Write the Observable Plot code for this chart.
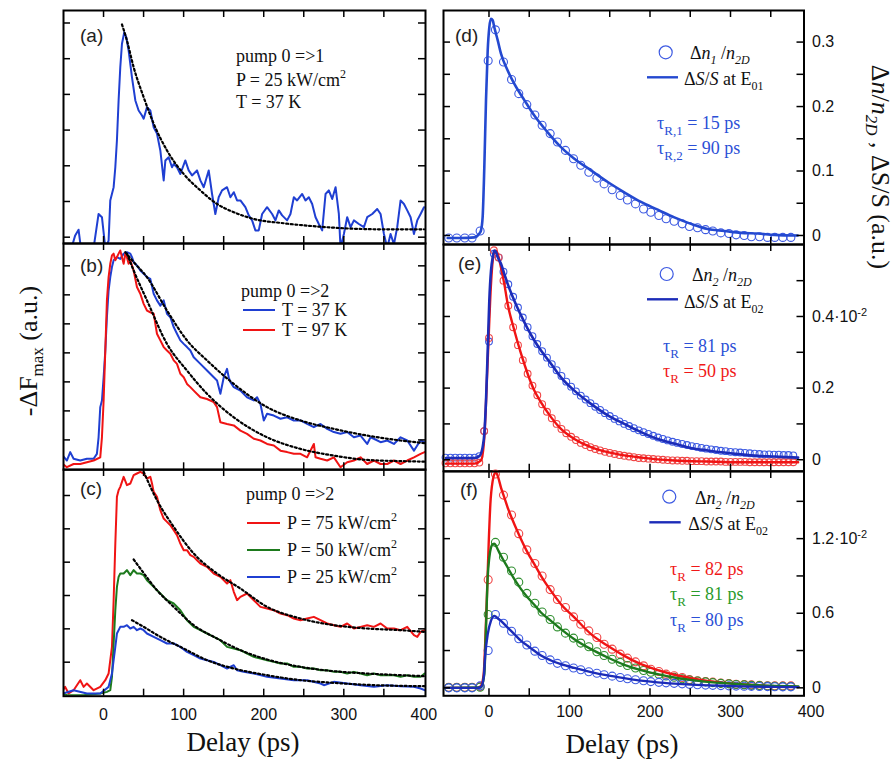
<!DOCTYPE html>
<html><head><meta charset="utf-8">
<script src="https://cdn.jsdelivr.net/npm/d3@7"></script>
<script src="https://cdn.jsdelivr.net/npm/@observablehq/plot@0.6"></script>
<style>
body{margin:0;background:#fff}
#fig{position:relative;width:894px;height:764px;overflow:hidden;background:#fff}
#fig svg{position:absolute}
</style>
</head><body><div id="fig"></div>
<script>
// ---------------- DATA (delay in ps, signal in axis units) ----------------
// (a) pump 0=>1, P = 25 kW/cm2, T = 37 K
const aBlue = [[-40,-0.3],[-35.4,0.05],[-31.2,0.21],[-28.3,-0.3],[-12.4,-0.3],[-6.2,0.65],[-2.0,0.56],[2.2,-0.3],[6.3,-0.1],[8.4,1.03],[12.6,1.40],[14.7,1.96],[16.7,2.71],[18.8,3.83],[20.9,4.76],[23.0,5.42],[25.9,5.74],[28.4,5.60],[31.3,5.23],[35.5,4.48],[39.7,3.83],[43.8,3.55],[48.0,3.41],[50.1,3.32],[54.2,3.64],[58.4,3.55],[62.6,3.08],[66.7,2.90],[70.9,2.43],[75.1,1.59],[77.2,2.15],[81.3,2.24],[85.5,1.96],[87.6,2.05],[91.7,1.96],[95.9,1.77],[102.1,2.15],[106.3,1.87],[110.5,1.73],[116.7,1.87],[120.9,1.59],[125.1,1.40],[131.3,1.87],[135.5,1.21],[139.6,0.65],[143.8,1.12],[148.0,1.31],[154.2,1.40],[158.4,1.12],[162.6,1.26],[166.7,1.03],[170.9,1.03],[177.1,0.84],[181.3,0.61],[185.5,0.47],[189.6,0.19],[193.8,0.19],[198.0,0.65],[204.2,0.84],[210.5,0.65],[214.6,0.47],[218.8,0.75],[223.0,0.61],[229.2,0.47],[233.4,0.65],[237.6,1.12],[241.7,1.03],[248.0,1.21],[252.2,1.03],[256.3,1.12],[260.5,0.93],[264.7,0.56],[268.8,0.37],[273.0,0.19],[277.2,1.21],[281.3,1.31],[285.5,1.07],[289.7,1.40],[293.8,0.65],[295.9,-0.3],[300.1,0.09],[304.2,0.56],[308.4,0.28],[312.6,0.47],[318.8,0.37],[325.1,0.28],[329.2,0.56],[335.5,0.65],[341.7,0.79],[345.9,0.65],[350.1,0.09],[354.2,-0.3],[358.4,0.09],[362.6,-0.2],[366.7,0.28],[370.9,1.03],[375.1,0.93],[379.2,0.75],[383.4,0.56],[387.6,0.09],[391.7,0.47],[395.9,0.65],[400.1,0.84]];
const aFit = [[23,5.96],[29.2,5.51],[37.6,4.76],[50.1,3.92],[62.6,3.18],[79.2,2.43],[100.1,1.77],[120.9,1.31],[141.7,0.93],[162.6,0.70],[187.6,0.51],[225,0.39],[266.7,0.30],[308.4,0.24],[350.1,0.22],[400.1,0.22]];

// (b) pump 0=>2, T = 37 K (blue) and T = 97 K (red)
const bBlue = [[-50.8,0.46],[-45.8,0.29],[-41.6,0.58],[-37.4,0.35],[-29.1,0.29],[-20.8,0.35],[-12.4,0.35],[-8.3,0.52],[-6.2,1.09],[-4.1,2.13],[-2.0,2.36],[0.1,3.16],[2.2,4.08],[4.2,5.23],[6.3,6.15],[8.4,6.61],[10.5,6.96],[12.6,7.19],[16.7,7.30],[20.9,7.24],[25.1,7.42],[29.2,7.47],[33.4,7.42],[35.5,7.30],[37.6,7.13],[41.7,7.01],[45.9,6.84],[50.1,6.73],[54.2,6.61],[58.4,6.55],[62.6,6.04],[66.7,5.81],[70.9,5.63],[75.1,5.81],[79.2,5.35],[83.4,5.23],[87.6,4.89],[91.7,4.66],[95.9,4.43],[100.1,4.31],[104.2,4.20],[108.4,4.08],[112.6,3.85],[120.9,3.62],[129.2,3.39],[137.6,3.16],[141.7,3.05],[145.9,2.59],[150.1,3.16],[154.2,3.45],[156.3,3.16],[158.4,2.99],[162.6,2.82],[170.9,2.70],[179.2,2.47],[187.6,2.36],[191.7,2.47],[195.9,2.24],[200.1,1.67],[204.2,1.90],[212.6,1.84],[220.9,1.73],[229.2,1.78],[237.6,1.67],[245.9,1.67],[254.2,1.55],[262.6,1.44],[270.9,1.55],[279.2,1.38],[287.6,1.27],[295.9,1.21],[304.2,1.27],[312.6,1.09],[320.9,1.15],[329.2,0.86],[333.4,1.09],[337.6,1.04],[345.9,0.92],[354.2,0.98],[362.6,0.86],[370.9,1.09],[379.2,0.98],[387.6,0.63],[391.7,0.81],[395.9,0.98],[400.9,0.92]];
const bRed = [[-50.8,0.17],[-45.8,0.06],[-37.4,0.17],[-29.1,0.17],[-20.8,0.23],[-12.4,0.29],[-4.1,0.40],[-2.0,1.09],[0.1,2.36],[2.2,4.08],[4.2,5.81],[6.3,6.61],[8.4,7.07],[10.5,7.36],[12.6,7.42],[14.7,7.19],[16.7,7.30],[18.8,7.42],[20.9,7.53],[23.0,7.30],[25.1,7.07],[27.2,7.42],[29.2,7.30],[31.3,7.07],[33.4,7.19],[37.6,6.84],[41.7,6.27],[45.9,6.04],[50.1,5.69],[54.2,5.46],[58.4,5.40],[62.6,5.35],[66.7,4.66],[70.9,4.43],[75.1,4.20],[79.2,4.08],[83.4,3.97],[87.6,3.74],[91.7,3.62],[95.9,3.28],[100.1,3.16],[104.2,2.93],[108.4,2.82],[112.6,2.70],[120.9,2.47],[129.2,2.41],[137.6,2.30],[141.7,2.13],[145.9,1.61],[154.2,1.55],[162.6,1.50],[170.9,1.32],[179.2,1.21],[187.6,1.04],[195.9,0.98],[204.2,0.86],[212.6,0.81],[220.9,0.63],[229.2,0.58],[237.6,0.52],[245.9,0.52],[254.2,0.40],[262.6,0.86],[264.7,0.40],[270.9,0.35],[279.2,0.29],[287.6,0.40],[295.9,0.06],[304.2,0.23],[312.6,0.29],[320.9,0.40],[329.2,0.17],[337.6,0.29],[345.9,0.17],[354.2,0.17],[362.6,0.29],[370.9,0.17],[379.2,0.29],[387.6,0.40],[395.9,0.52],[400.9,0.58]];
const bFitBlue = [[27.2,7.47],[37.6,7.13],[54.2,6.61],[79.2,5.46],[104.2,4.43],[129.2,3.74],[162.6,2.93],[204.2,2.13],[245.9,1.67],[287.6,1.38],[329.2,1.15],[370.9,0.98],[400.9,0.89]];
const bFitRed = [[29.2,7.42],[37.6,6.84],[54.2,5.81],[79.2,4.31],[104.2,3.39],[129.2,2.59],[162.6,1.78],[204.2,1.09],[245.9,0.69],[287.6,0.46],[329.2,0.31],[370.9,0.27],[400.9,0.25]];

// (c) pump 0=>2, P = 75 / 50 / 25 kW/cm2
const cRed = [[-50.8,0.16],[-47.9,0.26],[-43.7,0.06],[-37.4,0.16],[-29.1,0.46],[-24.9,0.26],[-20.8,0.36],[-12.4,0.16],[-4.1,0.26],[2.2,0.46],[6.3,0.66],[10.5,1.46],[12.6,2.86],[14.7,4.56],[16.7,5.96],[18.8,6.16],[20.9,6.26],[25.1,6.56],[29.2,6.31],[33.4,6.36],[37.6,6.61],[41.7,6.66],[45.9,6.71],[50.1,6.66],[54.2,6.51],[58.4,6.56],[60.5,6.36],[62.6,6.11],[66.7,5.96],[70.9,5.56],[75.1,5.31],[79.2,5.21],[83.4,5.11],[87.6,4.96],[91.7,4.81],[95.9,4.56],[100.1,4.36],[104.2,4.36],[108.4,4.21],[112.6,4.16],[116.7,4.06],[120.9,3.96],[129.2,3.86],[137.6,3.66],[145.9,3.56],[154.2,3.36],[158.4,3.46],[162.6,3.11],[166.7,2.86],[170.9,2.96],[179.2,3.06],[187.6,2.86],[195.9,2.66],[204.2,2.61],[212.6,2.56],[220.9,2.46],[229.2,2.41],[237.6,2.31],[245.9,2.26],[254.2,2.31],[262.6,2.36],[270.9,2.26],[279.2,2.16],[287.6,2.11],[295.9,2.06],[304.2,2.16],[312.6,2.01],[320.9,2.06],[329.2,2.11],[337.6,2.06],[345.9,2.16],[354.2,2.01],[362.6,2.01],[370.9,1.96],[379.2,2.06],[387.6,1.81],[391.7,1.76],[395.9,1.91],[400.9,1.96]];
const cGreen = [[-50.8,0.06],[-45.8,0.01],[-24.9,0.01],[-4.1,0.06],[4.2,0.11],[8.4,0.16],[10.5,0.56],[12.6,1.56],[14.7,2.56],[16.7,3.26],[18.8,3.56],[20.9,3.66],[25.1,3.66],[29.2,3.76],[33.4,3.61],[37.6,3.76],[41.7,3.66],[45.9,3.66],[50.1,3.61],[54.2,3.46],[58.4,3.36],[62.6,3.26],[66.7,3.16],[70.9,3.06],[75.1,2.96],[79.2,2.86],[87.6,2.76],[95.9,2.56],[104.2,2.26],[112.6,2.06],[120.9,1.96],[129.2,1.86],[137.6,1.76],[145.9,1.66],[154.2,1.46],[162.6,1.41],[170.9,1.36],[179.2,1.26],[187.6,1.16],[195.9,1.11],[204.2,1.06],[212.6,1.01],[220.9,0.96],[229.2,0.96],[237.6,0.86],[245.9,0.86],[254.2,0.81],[262.6,0.81],[270.9,0.76],[279.2,0.76],[287.6,0.71],[295.9,0.71],[304.2,0.66],[312.6,0.71],[320.9,0.66],[329.2,0.61],[337.6,0.66],[345.9,0.61],[354.2,0.61],[362.6,0.61],[370.9,0.56],[379.2,0.61],[387.6,0.56],[395.9,0.56],[400.9,0.66]];
const cBlue = [[-50.8,0.06],[-37.4,0.16],[-20.8,0.06],[-4.1,0.06],[6.3,0.26],[10.5,0.66],[12.6,1.06],[14.7,1.46],[16.7,1.86],[20.9,2.06],[25.1,2.06],[29.2,2.11],[33.4,2.01],[37.6,2.06],[41.7,1.96],[45.9,2.01],[50.1,1.96],[54.2,1.86],[62.6,1.76],[70.9,1.66],[79.2,1.56],[87.6,1.56],[95.9,1.46],[104.2,1.31],[112.6,1.21],[120.9,1.11],[129.2,1.06],[137.6,1.01],[145.9,0.91],[154.2,0.81],[162.6,0.91],[166.7,0.76],[175.0,0.71],[187.6,0.66],[204.2,0.56],[220.9,0.51],[237.6,0.46],[254.2,0.46],[270.9,0.36],[275.1,0.31],[287.6,0.41],[304.2,0.36],[320.9,0.31],[337.6,0.26],[354.2,0.31],[370.9,0.28],[387.6,0.26],[395.9,0.21],[400.9,0.16]];
const cFitRed = [[50.1,6.71],[66.7,5.86],[87.6,5.06],[112.6,4.26],[141.7,3.66],[170.9,3.21],[204.2,2.66],[245.9,2.31],[287.6,2.11],[329.2,2.01],[370.9,1.96],[400.9,1.91]];
const cFitGreen = [[37.6,4.08],[45.9,3.81],[66.7,3.16],[87.6,2.66],[112.6,2.11],[141.7,1.71],[170.9,1.36],[204.2,1.08],[245.9,0.86],[287.6,0.73],[329.2,0.66],[370.9,0.61],[400.9,0.58]];
const cFitBlue = [[35.5,2.26],[50.1,2.06],[70.9,1.76],[100.1,1.41],[129.2,1.06],[162.6,0.81],[204.2,0.61],[245.9,0.46],[287.6,0.38],[329.2,0.32],[370.9,0.29],[400.9,0.28]];

// (d) Δn1/n2D (circles) and ΔS/S at E01 (line)
const circleDelay = [-50,-40,-30,-21,-11,-1,8,18,28,37,47,57,66,76,85,95,105,114,124,134,143,153,163,172,182,192,201,211,220,230,240,249,259,269,278,288,298,307,317,326,336,346,355,365,375];
const dN1 = [-0.004,-0.004,-0.004,-0.004,0.007,0.271,0.319,0.269,0.242,0.220,0.203,0.187,0.171,0.158,0.145,0.132,0.119,0.109,0.098,0.089,0.080,0.071,0.062,0.055,0.049,0.041,0.036,0.031,0.026,0.022,0.018,0.014,0.012,0.009,0.007,0.004,0.003,0.001,0,-0.002,-0.002,-0.003,-0.003,-0.003,-0.003];
const dLine = [[-51.3,-0.004],[-34.8,-0.004],[-18.2,-0.003],[-12,0.003],[-9.9,0.008],[-7.9,0.028],[-5.8,0.106],[-3.7,0.21],[-1.6,0.287],[0.4,0.323],[2.5,0.336],[4.6,0.334],[6.6,0.323],[10.8,0.303],[14.9,0.282],[23.2,0.256],[31.5,0.235],[43.9,0.21],[56.3,0.186],[72.9,0.16],[89.4,0.137],[106,0.119],[126.7,0.101],[147.5,0.083],[168.1,0.067],[188.8,0.052],[209.6,0.04],[230.2,0.028],[250.9,0.018],[271.7,0.01],[292.3,0.007],[313,0.004],[333.8,0.003],[354.4,0.001],[383.5,0]];

// (e) Δn2/n2D (circles, units 10^-2) and ΔS/S at E02 (lines), T = 37 K (blue) / 97 K (red)
const eDelay = [-54,-48,-42,-36,-30,-24,-18,-12,-6,0,6,12,18,24,30,36,42,48,54,60,66,72,78,84,90,96,102,108,114,120,126,132,138,144,150,156,162,168,174,180,186,192,198,204,210,216,222,228,234,240,246,252,258,264,270,276,282,288,294,300,306,312,318,324,330,336,342,348,354,360,366,372,378];
const eBlue = [0.006,0.006,0.006,0.006,0.006,0.006,0.006,0.01,0.08,0.33,0.575,0.565,0.525,0.49,0.455,0.425,0.397,0.37,0.345,0.323,0.303,0.285,0.267,0.25,0.234,0.218,0.204,0.191,0.179,0.168,0.158,0.148,0.139,0.13,0.122,0.114,0.107,0.1,0.094,0.088,0.082,0.077,0.072,0.067,0.062,0.058,0.054,0.05,0.047,0.044,0.041,0.038,0.036,0.033,0.031,0.029,0.027,0.025,0.024,0.022,0.021,0.02,0.019,0.018,0.017,0.016,0.015,0.015,0.014,0.014,0.013,0.013,0.012];
const eRed = [-0.01,-0.01,-0.01,-0.01,-0.01,-0.01,-0.01,-0.008,0.08,0.34,0.585,0.565,0.5,0.43,0.37,0.32,0.278,0.24,0.207,0.18,0.155,0.134,0.116,0.1,0.086,0.074,0.064,0.055,0.047,0.041,0.035,0.03,0.026,0.022,0.019,0.016,0.013,0.011,0.009,0.007,0.005,0.004,0.003,0.002,0.001,0,-0.001,-0.002,-0.002,-0.003,-0.003,-0.004,-0.004,-0.004,-0.005,-0.005,-0.005,-0.005,-0.006,-0.006,-0.006,-0.006,-0.006,-0.007,-0.007,-0.007,-0.007,-0.007,-0.007,-0.007,-0.007,-0.007,-0.007];
const eBlueLine = [[-53.4,0.005],[-18.2,0.005],[-12,0.01],[-7.9,0.035],[-5.8,0.072],[-3.7,0.165],[-1.6,0.305],[0.4,0.445],[2.5,0.528],[4.6,0.565],[6.6,0.584],[8.7,0.58],[10.8,0.566],[14.9,0.547],[19,0.519],[23.2,0.491],[31.5,0.444],[39.8,0.403],[48,0.366],[56.3,0.333],[64.6,0.305],[77,0.268],[89.4,0.23],[106,0.193],[126.7,0.156],[147.5,0.124],[168.1,0.1],[188.8,0.077],[209.6,0.058],[230.2,0.045],[250.9,0.033],[271.7,0.026],[292.3,0.02],[313,0.015],[333.8,0.011],[354.4,0.009],[384,0.006]];
const eRedLine = [[-53.4,-0.011],[-18.2,-0.011],[-9.9,-0.002],[-5.8,0.063],[-1.6,0.277],[2.5,0.491],[4.6,0.556],[6.6,0.58],[8.7,0.584],[10.8,0.575],[14.9,0.537],[19,0.491],[23.2,0.435],[31.5,0.361],[39.8,0.296],[48,0.24],[56.3,0.193],[64.6,0.16],[77,0.119],[89.4,0.086],[106,0.058],[126.7,0.035],[147.5,0.021],[168.1,0.012],[188.8,0.006],[209.6,0.001],[230.2,-0.002],[271.7,-0.005],[313,-0.007],[354.4,-0.007],[384,-0.007]];

// (f) Δn2/n2D (circles, units 10^-2), ΔS/S at E02 (lines), P = 75 / 50 / 25 kW/cm2
const fRed = [0.005,0.005,0.005,0.005,0.01,0.87,1.72,1.55,1.39,1.24,1.11,1.00,0.90,0.79,0.71,0.646,0.571,0.512,0.458,0.405,0.351,0.311,0.271,0.239,0.209,0.177,0.150,0.131,0.110,0.097,0.083,0.067,0.056,0.051,0.046,0.038,0.035,0.029,0.027,0.024,0.021,0.016,0.016,0.016,0.016];
const fGreen = [0.003,0.003,0.003,0.003,0.005,0.59,1.17,1.05,0.94,0.85,0.76,0.68,0.61,0.55,0.49,0.44,0.40,0.36,0.33,0.29,0.26,0.23,0.205,0.18,0.16,0.14,0.125,0.11,0.095,0.085,0.073,0.063,0.055,0.048,0.042,0.036,0.032,0.027,0.024,0.02,0.018,0.015,0.013,0.012,0.011];
const fBlue = [0,0,0,0,0.016,0.30,0.59,0.52,0.455,0.395,0.345,0.295,0.26,0.225,0.197,0.178,0.16,0.145,0.13,0.117,0.105,0.094,0.083,0.073,0.065,0.057,0.05,0.044,0.04,0.036,0.032,0.028,0.025,0.022,0.02,0.018,0.016,0.014,0.013,0.012,0.011,0.01,0.009,0.008,0.008];
const fRedLine = [[-53,0],[-14.1,0],[-9.9,0.016],[-6.6,0.11],[-4.6,0.378],[-2.5,0.753],[-0.4,1.155],[1.7,1.477],[4.6,1.665],[6.6,1.718],[8.7,1.732],[10.8,1.705],[14.9,1.611],[19,1.531],[23.2,1.45],[31.5,1.316],[39.8,1.196],[48,1.088],[56.3,0.995],[64.6,0.901],[77,0.78],[89.4,0.673],[106,0.566],[126.7,0.432],[147.4,0.338],[168.1,0.257],[188.8,0.19],[209.5,0.142],[230.2,0.105],[250.9,0.078],[271.6,0.056],[292.3,0.04],[313,0.029],[333.8,0.021],[354.5,0.013],[384.3,0.008]];
const fGreenLine = [[-53,0],[-9.9,0.003],[-5.8,0.11],[-3.7,0.485],[-1.6,0.887],[0.4,1.048],[2.5,1.129],[4.6,1.155],[6.6,1.16],[8.7,1.142],[10.8,1.115],[14.9,1.062],[23.2,0.968],[31.5,0.874],[39.8,0.794],[48,0.727],[56.3,0.668],[64.6,0.606],[77,0.539],[89.4,0.472],[106,0.391],[126.7,0.311],[147.4,0.244],[168.1,0.185],[188.8,0.142],[209.5,0.11],[230.2,0.083],[250.9,0.064],[271.6,0.048],[292.3,0.038],[313,0.029],[333.8,0.021],[354.5,0.016],[384.3,0.011]];
const fBlueLine = [[-53,0],[-14.1,0],[-9.9,0.008],[-6.6,0.083],[-4.6,0.27],[-1.6,0.43],[2.5,0.54],[6.6,0.579],[8.7,0.571],[10.8,0.56],[14.9,0.539],[23.2,0.485],[31.5,0.432],[39.8,0.378],[48,0.338],[56.3,0.298],[64.6,0.26],[77,0.22],[89.4,0.19],[106,0.16],[126.7,0.127],[147.4,0.1],[168.1,0.078],[188.8,0.058],[209.5,0.044],[230.2,0.034],[250.9,0.026],[271.6,0.02],[292.3,0.016],[313,0.012],[354.5,0.008],[384.3,0.006]];

// tick values
const leftXTicks = [0,50,100,150,200,250,300,350];
const rightXTicks = [0,50,100,150,200,250,300,350];
const xTickLabels = [0,100,200,300,400];
const aYTicks = [0,1,2,3,4,5,6];
const bYTicks = [1,2,3,4,5,6,7];
const cYTicks = [1,2,3,4,5,6];
const dYTicks = [0,0.05,0.1,0.15,0.2,0.25,0.3];
const dYLabels = [0,0.1,0.2,0.3];
const eYTicks = [0,0.1,0.2,0.3,0.4,0.5];
const eYLabels = [0,0.2,0.4];
const fYTicks = [0,0.3,0.6,0.9,1.2,1.5];
const fYLabels = [0,0.6,1.2];

// ---------------- STYLE ----------------
const SANS = "'Liberation Sans', Arial, sans-serif";
const SERIF = "'Liberation Serif', 'Times New Roman', serif";
const BLUE = "#1f3fd2", RED = "#f01414", GREEN = "#1d7a1d";
const BLUE_D = "#1c2cb8", BLUE_C = "#3d5ae2", RED_C = "#f04646", GREEN_C = "#2f8f2f";
const TXT_BLUE = "#2b4fd6", TXT_RED = "#f01818", TXT_GREEN = "#2a9a2a";
const fig = document.getElementById("fig");

function panel(p) {
  const {fl, ft, fw, fh, xd, yd, xt, yt, marks, mL = 2, mR = 2, mT = 2, mB = 2, xAxis, yAxis} = p;
  const tl = 7, tk = {stroke: "#000", strokeWidth: 1.5};
  const all = [
    ...marks,
    Plot.tickX(xt, {x: d => d, insetTop: fh - tl, ...tk}),
    Plot.tickX(xt, {x: d => d, insetBottom: fh - tl, ...tk}),
    Plot.tickY(yt, {y: d => d, insetRight: fw - tl, ...tk}),
    Plot.tickY(yt, {y: d => d, insetLeft: fw - tl, ...tk}),
    Plot.frame({stroke: "#000", strokeWidth: 2})
  ];
  if (xAxis) all.push(xAxis);
  if (yAxis) all.push(yAxis);
  const chart = Plot.plot({
    width: fw + mL + mR, height: fh + mT + mB,
    marginLeft: mL, marginRight: mR, marginTop: mT, marginBottom: mB,
    x: xAxis ? {domain: xd} : {domain: xd, axis: null},
    y: yAxis ? {domain: yd} : {domain: yd, axis: null},
    style: {fontFamily: SANS, fontSize: "16px", overflow: "visible", background: "transparent", color: "#111"},
    marks: all
  });
  chart.style.position = "absolute";
  chart.style.left = (fl - mL) + "px";
  chart.style.top = (ft - mT) + "px";
  fig.appendChild(chart);
  // superscript exponent on "·10" tick labels
  d3.select(chart).selectAll("text").filter(function () { return this.textContent.endsWith("·10"); })
    .append("tspan").attr("dy", "-0.5em").attr("font-size", "11px").text("-2");
  return chart;
}

const ln = (data, stroke, w = 2, extra = {}) => Plot.line(data, {x: d => d[0], y: d => d[1], stroke, strokeWidth: w, clip: true, ...extra});
const fit = (data) => Plot.line(data, {x: d => d[0], y: d => d[1], stroke: "#000", strokeWidth: 2.2, strokeDasharray: "2,2.6", curve: "monotone-x", clip: true});
const circ = (vals, xs, stroke, r = 3.8) => Plot.dot(xs.map((x, i) => [x, vals[i]]), {x: d => d[0], y: d => d[1], r, stroke, fill: "none", strokeWidth: 1.1});

const LX = [-50, 402], RX = [-56.5, 391.3];

// Left column
panel({fl: 63, ft: 10, fw: 362, fh: 233, xd: LX, yd: [-0.177, 6.35], xt: leftXTicks, yt: aYTicks,
  marks: [ln(aBlue, BLUE, 2), fit(aFit)]});
panel({fl: 63, ft: 243, fw: 362, fh: 226.3, xd: LX, yd: [-0.03, 7.77], xt: leftXTicks, yt: bYTicks,
  marks: [ln(bBlue, BLUE, 2), ln(bRed, RED, 2), fit(bFitBlue), fit(bFitRed)]});
panel({fl: 63, ft: 469.3, fw: 362, fh: 226.7, xd: LX, yd: [-0.02, 6.78], xt: leftXTicks, yt: cYTicks, mB: 40, mR: 20,
  marks: [ln(cRed, RED, 2), ln(cGreen, GREEN, 2), ln(cBlue, BLUE, 2), fit(cFitRed), fit(cFitGreen), fit(cFitBlue)],
  xAxis: Plot.axisX({anchor: "bottom", ticks: xTickLabels, tickSize: 0, tickPadding: 12, label: null, fontSize: 16})});

// Right column
panel({fl: 442.5, ft: 10, fw: 360.5, fh: 234, xd: RX, yd: [-0.014, 0.349], xt: rightXTicks, yt: dYTicks, mR: 90,
  marks: [circ(dN1, circleDelay, BLUE_C, 4), ln(dLine, "#2449d0", 2.6, {curve: "monotone-x"})],
  yAxis: Plot.axisY({anchor: "right", ticks: dYLabels, tickSize: 0, tickPadding: 8, label: null, fontSize: 16, tickFormat: d => d === 0 ? "0" : String(d)})});
panel({fl: 442.5, ft: 244, fw: 360.5, fh: 226.7, xd: RX, yd: [-0.032, 0.601], xt: rightXTicks, yt: eYTicks, mR: 90,
  marks: [circ(eBlue, eDelay, BLUE_C, 3.4), circ(eRed, eDelay, RED_C, 3.4),
          ln(eRedLine, RED, 2.4, {curve: "monotone-x"}), ln(eBlueLine, BLUE_D, 2.6, {curve: "monotone-x"})],
  yAxis: Plot.axisY({anchor: "right", ticks: eYLabels, tickSize: 0, tickPadding: 8, label: null, fontSize: 16, tickFormat: d => d === 0 ? "0" : (d === 0.4 ? "0.4·10" : String(d))})});
panel({fl: 442.5, ft: 470.7, fw: 360.5, fh: 224.3, xd: RX, yd: [-0.064, 1.74], xt: rightXTicks, yt: fYTicks, mR: 90, mB: 40,
  marks: [circ(fRed, circleDelay, RED_C, 4), circ(fGreen, circleDelay, GREEN_C, 4), circ(fBlue, circleDelay, BLUE_C, 4),
          ln(fRedLine, RED, 2.4, {curve: "monotone-x"}), ln(fGreenLine, GREEN, 2.4, {curve: "monotone-x"}), ln(fBlueLine, BLUE_D, 2.4, {curve: "monotone-x"})],
  xAxis: Plot.axisX({anchor: "bottom", ticks: xTickLabels, tickSize: 0, tickPadding: 10, label: null, fontSize: 16}),
  yAxis: Plot.axisY({anchor: "right", ticks: fYLabels, tickSize: 0, tickPadding: 8, label: null, fontSize: 16, tickFormat: d => d === 0 ? "0" : (d === 1.2 ? "1.2·10" : String(d))})});

// ---------------- TEXT / LEGENDS OVERLAY ----------------
const ov = d3.create("svg").attr("width", 894).attr("height", 764).style("left", "0px").style("top", "0px");
fig.appendChild(ov.node());
function T(x, y, html, o = {}) {
  const t = ov.append("text").attr("x", x).attr("y", y)
    .attr("font-size", o.size || 18).attr("font-family", o.family || SERIF)
    .attr("fill", o.fill || "#111").attr("text-anchor", o.anchor || "start");
  if (o.rotate) t.attr("transform", `rotate(${o.rotate},${x},${y})`);
  t.html(html);
}
const sub = (s, dy = 5, fs = 12, it = false) => `<tspan dy="${dy}" font-size="${fs}"${it ? ' font-style="italic"' : ''}>${s}</tspan>`;
const back = (s, dy = -5) => `<tspan dy="${dy}">${s}</tspan>`;
const sup2 = `<tspan dy="-8" font-size="12">2</tspan>`;
const legLine = (x1, x2, y, c, w = 2) => ov.append("line").attr("x1", x1).attr("x2", x2).attr("y1", y).attr("y2", y).attr("stroke", c).attr("stroke-width", w);
const legCirc = (x, y, c) => ov.append("circle").attr("cx", x).attr("cy", y).attr("r", 6.5).attr("fill", "none").attr("stroke", c).attr("stroke-width", 1.2);

// panel letters
[["(a)", 80, 41.5], ["(b)", 80, 271.5], ["(c)", 80, 494.5], ["(d)", 455, 41.5], ["(e)", 458, 269.5], ["(f)", 460, 496]]
  .forEach(([s, x, y]) => T(x, y, s, {family: SANS, size: 19, fill: "#222"}));

// (a)
T(236, 62, "pump 0 =&gt;1");
T(236, 86, "P = 25 kW/cm" + sup2);
T(236, 108, "T = 37 K");
// (b)
T(241, 297, "pump 0 =&gt;2");
legLine(243, 275, 310, BLUE); T(282, 316, "T = 37 K");
legLine(243, 275, 330, RED); T(282, 336, "T = 97 K");
// (c)
T(246, 500, "pump 0 =&gt;2");
legLine(247, 280, 523, RED); T(287, 529, "P = 75 kW/cm" + sup2);
legLine(247, 280, 550, GREEN); T(287, 556, "P = 50 kW/cm" + sup2);
legLine(247, 280, 577, BLUE); T(287, 583, "P = 25 kW/cm" + sup2);

const dnLabel = (k) => `Δ<tspan font-style="italic">n</tspan>${sub(k, 5, 12, true)}${back(" /", -5)}<tspan font-style="italic">n</tspan>${sub("2D", 5, 12, true)}`;
const dsLabel = (k) => `Δ<tspan font-style="italic">S</tspan>/<tspan font-style="italic">S</tspan> at E${sub(k, 5, 12)}`;
const tau = (k, v) => `τ${sub(k, 6, 13)}${back(" = " + v + " ps", -6)}`;
// (d)
legCirc(665.7, 52.3, BLUE_C); T(690, 59, dnLabel("1"));
legLine(647, 678, 77.3, "#2449d0", 2.4); T(684, 85, dsLabel("01"));
T(657, 129, tau("R,1", 15), {fill: TXT_BLUE});
T(657, 154, tau("R,2", 90), {fill: TXT_BLUE});
// (e)
legCirc(666.7, 274, BLUE_C); T(692, 281, dnLabel("2"));
legLine(647, 678, 299.3, BLUE_D, 2.4); T(684, 307.5, dsLabel("02"));
T(663, 351.7, tau("R", 81), {fill: TXT_BLUE});
T(663, 376.7, tau("R", 50), {fill: TXT_RED});
// (f)
legCirc(669.3, 496.7, BLUE_C); T(695, 503.5, dnLabel("2"));
legLine(649.3, 680.7, 522.3, BLUE_D, 2.4); T(688.3, 529.5, dsLabel("02"));
T(670, 575, tau("R", 82), {fill: TXT_RED});
T(670, 600, tau("R", 81), {fill: TXT_GREEN});
T(670, 625.5, tau("R", 80), {fill: TXT_BLUE});

// axis titles
T(243, 751, "Delay (ps)", {size: 27, anchor: "middle"});
T(622, 753, "Delay (ps)", {size: 27, anchor: "middle"});
T(37, 351, `-ΔF${sub("max", 6, 17)}${back(" (a.u.)", -6)}`, {size: 26, anchor: "middle", rotate: -90});
T(872, 167, `Δ<tspan font-style="italic">n</tspan>/<tspan font-style="italic">n</tspan>${sub("2D", 6, 17, true)}${back(" , ΔS/S (a.u.)", -6)}`, {size: 26, anchor: "middle", rotate: 90});
</script>
</body></html>
